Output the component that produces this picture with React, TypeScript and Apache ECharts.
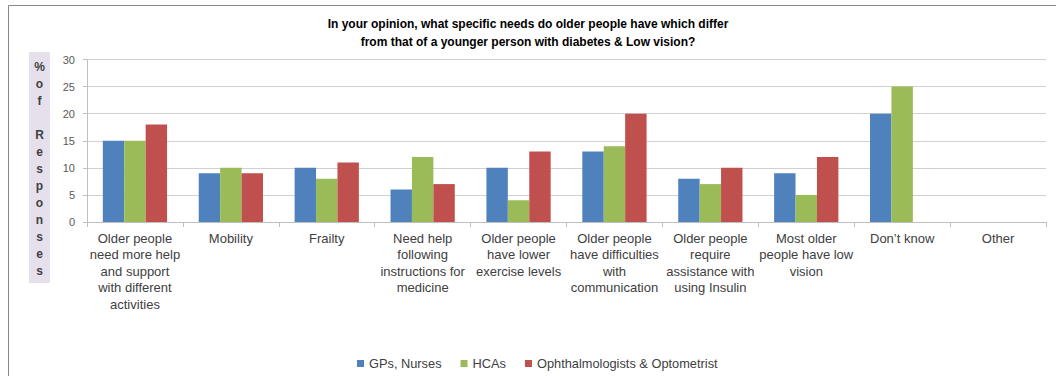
import React, { useEffect, useRef } from "react";
import * as echarts from "echarts";

const categories = [
  "Older people\nneed more help\nand support\nwith different\nactivities",
  "Mobility",
  "Frailty",
  "Need help\nfollowing\ninstructions for\nmedicine",
  "Older people\nhave lower\nexercise levels",
  "Older people\nhave difficulties\nwith\ncommunication",
  "Older people\nrequire\nassistance with\nusing Insulin",
  "Most older\npeople have low\nvision",
  "Don\u2019t know",
  "Other",
];

const gpsNurses = [15, 9, 10, 6, 10, 13, 8, 9, 20, 0];
const hcas = [15, 10, 8, 12, 4, 14, 7, 5, 25, 0];
const ophthalmologists = [18, 9, 11, 7, 13, 20, 10, 12, 0, 0];

const seriesNames = ["GPs, Nurses", "HCAs", "Ophthalmologists & Optometrist"];
const seriesColors = ["#4F81BD", "#9BBB59", "#C0504D"];

const titleText =
  "In your opinion, what specific needs do older people have which differ\nfrom that of a younger person with diabetes & Low vision?";
const yAxisLabel = "%\no\nf\n\nR\ne\ns\np\no\nn\ns\ne\ns";

const FONT = "'Liberation Sans', Arial, sans-serif";

export default function App() {
  const ref = useRef<HTMLDivElement>(null);

  useEffect(() => {
    if (!ref.current) return;
    const chart = echarts.init(ref.current, null, { renderer: "svg" });
    const data = [gpsNurses, hcas, ophthalmologists];
    chart.setOption({
      animation: false,
      backgroundColor: "#ffffff",
      textStyle: { fontFamily: FONT },
      title: {
        text: titleText,
        left: "center",
        top: 10,
        textStyle: {
          fontFamily: FONT,
          fontSize: 12,
          fontWeight: "bold",
          color: "#000000",
          lineHeight: 18,
        },
      },
      legend: {
        left: 352,
        top: 352,
        itemWidth: 7,
        itemHeight: 7,
        itemGap: 19,
        icon: "rect",
        textStyle: { fontFamily: FONT, fontSize: 12.8, color: "#404040" },
        data: seriesNames,
      },
      graphic: [
        {
          type: "rect",
          shape: { x: 8.5, y: 5.5, width: 1200, height: 500 },
          style: { fill: "none", stroke: "#888888", lineWidth: 1 },
          silent: true,
        },
        {
          type: "rect",
          shape: { x: 29, y: 52, width: 21, height: 231 },
          style: { fill: "#E6E0EC" },
          silent: true,
        },
        {
          type: "text",
          x: 39.5,
          y: 58,
          style: {
            text: yAxisLabel,
            fontFamily: FONT,
            fontSize: 12,
            fontWeight: "bold",
            fill: "#404040",
            align: "center",
            verticalAlign: "top",
            lineHeight: 17,
          },
          silent: true,
        },
      ],
      grid: { left: 87, right: 10, top: 59.5, bottom: 154, containLabel: false },
      xAxis: {
        type: "category",
        data: categories,
        axisLine: { lineStyle: { color: "#BFBFBF" } },
        axisTick: { show: true, length: 5, lineStyle: { color: "#BFBFBF" } },
        axisLabel: {
          interval: 0,
          fontFamily: FONT,
          fontSize: 13,
          color: "#404040",
          lineHeight: 16.5,
          margin: 8,
        },
      },
      yAxis: {
        type: "value",
        min: 0,
        max: 30,
        interval: 5,
        axisLine: { show: true, lineStyle: { color: "#BFBFBF" } },
        axisTick: { show: true, length: 4, lineStyle: { color: "#BFBFBF" } },
        splitLine: { lineStyle: { color: "#D0D0D0" } },
        axisLabel: { fontFamily: FONT, fontSize: 11, color: "#595959", margin: 12 },
      },
      series: seriesNames.map((name, i) => ({
        name,
        type: "bar",
        data: data[i],
        barGap: "0%",
        barCategoryGap: "33%",
        itemStyle: { color: seriesColors[i] },
      })),
    });
    return () => chart.dispose();
  }, []);

  return (
    <div
      ref={ref}
      style={{ position: "absolute", left: 0, top: 0, width: 1056, height: 376 }}
    />
  );
}
